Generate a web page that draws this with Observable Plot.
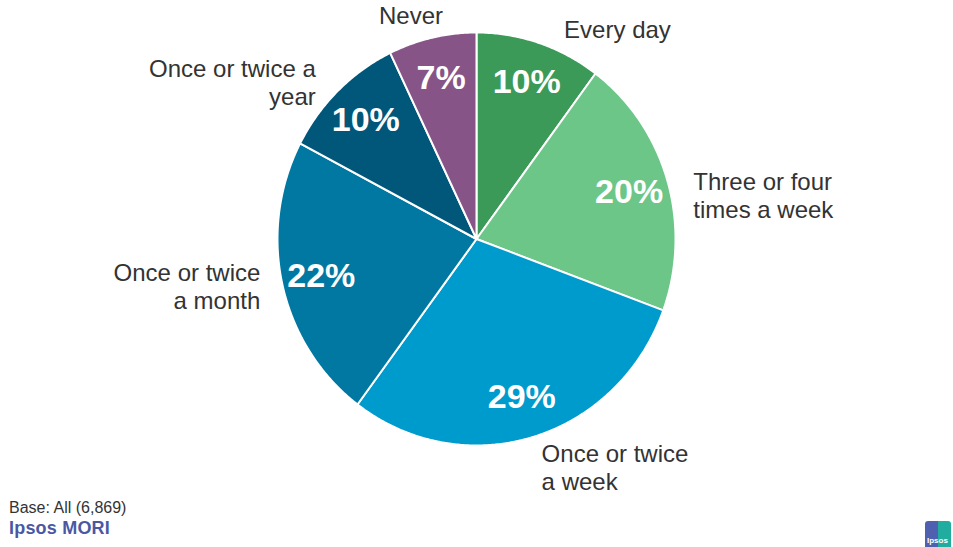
<!DOCTYPE html>
<html>
<head>
<meta charset="utf-8">
<script src="https://cdn.jsdelivr.net/npm/d3@7"></script>
<script src="https://cdn.jsdelivr.net/npm/@observablehq/plot@0.6"></script>
<style>
  html, body { margin: 0; padding: 0; background: #fff; }
  #wrap { position: relative; width: 953px; height: 547px; font-family: "Liberation Sans", Arial, sans-serif; }
  #base { position: absolute; left: 9px; top: 499px; font-size: 16px; line-height: 18px; color: #333; }
  #brand { position: absolute; left: 9px; top: 518px; font-size: 18px; line-height: 20px; font-weight: bold; color: #4a58a4; letter-spacing: 0.2px; }
  #logo { position: absolute; left: 925px; top: 521px; width: 26px; height: 26px; border-radius: 3px 3px 0 0;
          background: linear-gradient(90deg, #5060b0 0 50%, #20ad9f 50% 100%); }
  #logo span { position: absolute; left: 2px; bottom: 2px; font-size: 8px; color: #fff; font-weight: bold; }
</style>
</head>
<body>
<div id="wrap">
  <div id="chart"></div>
  <div id="base">Base: All (6,869)</div>
  <div id="brand">Ipsos MORI</div>
  <div id="logo"><span>Ipsos</span></div>
</div>
<script>
// ---- data ----
const categories = ["Every day", "Three or four times a week", "Once or twice a week",
                    "Once or twice a month", "Once or twice a year", "Never"];
const values = [10, 20, 29, 22, 10, 7];
const labelLines = ["Every day", "Three or four\ntimes a week", "Once or twice\na week",
                    "Once or twice\na month", "Once or twice a\nyear", "Never"];
const colors = ["#3b9a58", "#6cc688", "#009bcd", "#0078a2", "#00577a", "#875487"];

// ---- layout (not data) ----
const labelAngleShift = [5, 5.5, 0, 1, -2.6, -4];   // degrees nudge for outside labels
const labelAnchor = ["start", "start", "start", "end", "end", "middle"];

const pie = d3.pie().sort(null).value(d => d)(values);
const toDeg = r => r * 180 / Math.PI;

const slicePts = [];
pie.forEach((p, i) => {
  const a0 = toDeg(p.startAngle), a1 = toDeg(p.endAngle);
  slicePts.push({cat: categories[i], x: 0, y: 0});
  const n = Math.max(2, Math.ceil((a1 - a0) / 0.5));
  for (let k = 0; k <= n; k++) {
    const a = (a0 + (a1 - a0) * k / n) * Math.PI / 180;
    slicePts.push({cat: categories[i], x: Math.sin(a), y: Math.cos(a)});
  }
  slicePts.push({cat: categories[i], x: 0, y: 0});
});

const inner = pie.map((p, i) => {
  const a = (p.startAngle + p.endAngle) / 2;
  return {x: 0.8 * Math.sin(a), y: 0.8 * Math.cos(a), t: values[i] + "%"};
});
const outer = pie.map((p, i) => {
  const a = (p.startAngle + p.endAngle) / 2 + labelAngleShift[i] * Math.PI / 180;
  const r = i === 2 ? 1.15 : (i === 5 ? 1.135 : 1.11);
  return {x: r * Math.sin(a), y: r * Math.cos(a), t: labelLines[i], anchor: labelAnchor[i]};
});

const textCommon = {x: "x", y: "y", text: "t", fill: "#333", fontSize: 24, lineHeight: 1.17,
                    fontFamily: "Liberation Sans, Arial, sans-serif"};

const chart = Plot.plot({
  width: 953,
  height: 547,
  marginLeft: 277,
  marginRight: 953 - 675,
  marginTop: 32,
  marginBottom: 547 - 445,
  x: {domain: [-1, 1], axis: null},
  y: {domain: [-1, 1], axis: null},
  color: {domain: categories, range: colors},
  style: {background: "white", overflow: "visible"},
  marks: [
    Plot.line(slicePts, {x: "x", y: "y", z: "cat", fill: "cat", stroke: "white", strokeWidth: 2,
                         strokeLinejoin: "round", curve: "linear"}),
    Plot.text(inner, {x: "x", y: "y", text: "t", fill: "white", fontSize: 34, fontWeight: "bold",
                      fontFamily: "Liberation Sans, Arial, sans-serif"}),
    Plot.text(outer.filter(d => d.anchor === "start"), {...textCommon, textAnchor: "start"}),
    Plot.text(outer.filter(d => d.anchor === "end"), {...textCommon, textAnchor: "end"}),
    Plot.text(outer.filter(d => d.anchor === "middle"), {...textCommon, textAnchor: "middle"})
  ]
});
document.getElementById("chart").appendChild(chart);
</script>
</body>
</html>
